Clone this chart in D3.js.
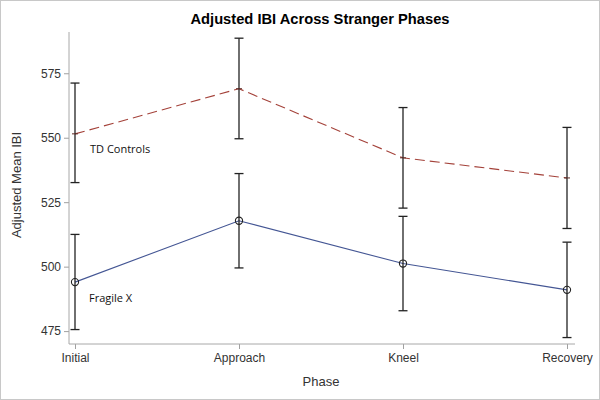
<!DOCTYPE html>
<html>
<head>
<meta charset="utf-8">
<script src="https://cdn.jsdelivr.net/npm/d3@7"></script>
<style>
  body { margin: 0; background: #fff; }
  svg { display: block; font-family: "Liberation Sans", Arial, sans-serif; }
</style>
</head>
<body>
<svg id="chart" width="600" height="400"></svg>
<script>
// data
var phases = ["Initial", "Approach", "Kneel", "Recovery"];
var tdMean = [551.5, 569, 542.2, 534.4];
var tdLow  = [532.6, 549.6, 522.7, 514.8];
var tdHigh = [571.2, 588.6, 561.7, 554.0];
var fxMean = [494.0, 517.8, 501.2, 491.0];
var fxLow  = [475.6, 499.5, 482.9, 472.5];
var fxHigh = [512.5, 536.1, 519.5, 509.5];
var yTicks = [475, 500, 525, 550, 575];

var width = 600, height = 400;
var svg = d3.select("#chart");

// outer frame
svg.append("rect")
  .attr("x", 0.5).attr("y", 0.5)
  .attr("width", width - 1).attr("height", height - 1)
  .attr("fill", "#fff").attr("stroke", "#c8c8c8");

// plot box (note: "top" is taken by window.top)
var pLeft = 69, pRight = 575, pTop = 32, pBottom = 344;

var x = d3.scalePoint()
  .domain(phases)
  .range([75, 567]);
var y = d3.scaleLinear()
  .domain([470, 591])
  .range([pBottom, pTop]);

// axes
var xAxis = svg.append("g")
  .attr("transform", "translate(0," + pBottom + ")")
  .call(d3.axisBottom(x).tickSize(5).tickPadding(4));
var yAxis = svg.append("g")
  .attr("transform", "translate(" + pLeft + ",0)")
  .call(d3.axisLeft(y).tickValues(yTicks).tickSize(5).tickPadding(3));

[xAxis, yAxis].forEach(function(g){
  g.select(".domain").remove();
  g.selectAll(".tick line").attr("stroke", "#a0a0a0");
  g.selectAll(".tick text")
    .attr("fill", "#333")
    .style("font-size", "12px")
    .style("font-family", "Liberation Sans, Arial, sans-serif");
});

svg.append("line")
  .attr("x1", pLeft).attr("x2", pLeft)
  .attr("y1", pTop).attr("y2", pBottom)
  .attr("stroke", "#a8a8a8");
svg.append("line")
  .attr("x1", pLeft).attr("x2", pRight)
  .attr("y1", pBottom).attr("y2", pBottom)
  .attr("stroke", "#a8a8a8");

// titles
svg.append("text")
  .attr("x", 320).attr("y", 24)
  .attr("text-anchor", "middle")
  .style("font-size", "14.7px").style("font-weight", "bold")
  .text("Adjusted IBI Across Stranger Phases");

svg.append("text")
  .attr("x", 321).attr("y", 386)
  .attr("text-anchor", "middle")
  .attr("fill", "#333")
  .style("font-size", "13px")
  .text("Phase");

svg.append("text")
  .attr("transform", "translate(21,185) rotate(-90)")
  .attr("text-anchor", "middle")
  .attr("fill", "#333")
  .style("font-size", "13px")
  .text("Adjusted Mean IBI");

function series(mean, color, dash){
  var line = d3.line()
    .x(function(d, i){ return x(phases[i]); })
    .y(function(d){ return y(d); });
  svg.append("path")
    .datum(mean)
    .attr("d", line)
    .attr("fill", "none")
    .attr("stroke", color)
    .attr("stroke-width", 1.1)
    .attr("stroke-dasharray", dash);
}

function errorBars(low, high){
  var g = svg.append("g").attr("stroke", "#222").attr("stroke-width", 1.3);
  phases.forEach(function(p, i){
    var cx = x(p);
    g.append("line").attr("x1", cx).attr("x2", cx)
      .attr("y1", y(low[i])).attr("y2", y(high[i]));
    g.append("line").attr("x1", cx - 4.5).attr("x2", cx + 4.5)
      .attr("y1", y(low[i])).attr("y2", y(low[i]));
    g.append("line").attr("x1", cx - 4.5).attr("x2", cx + 4.5)
      .attr("y1", y(high[i])).attr("y2", y(high[i]));
  });
}

series(tdMean, "#a4423a", "10,5");
series(fxMean, "#445694", null);
errorBars(tdLow, tdHigh);
errorBars(fxLow, fxHigh);

// markers
svg.append("g").selectAll("circle")
  .data(fxMean)
  .enter().append("circle")
  .attr("cx", function(d, i){ return x(phases[i]); })
  .attr("cy", function(d){ return y(d); })
  .attr("r", 3.6)
  .attr("fill", "none")
  .attr("stroke", "#222")
  .attr("stroke-width", 1.1);

svg.append("g").selectAll("line")
  .data(tdMean)
  .enter().append("line")
  .attr("x1", function(d, i){ return x(phases[i]) - 3; })
  .attr("x2", function(d, i){ return x(phases[i]) + 3; })
  .attr("y1", function(d){ return y(d); })
  .attr("y2", function(d){ return y(d); })
  .attr("stroke", "#5a2a24")
  .attr("stroke-width", 1);

// curve labels
svg.append("text")
  .attr("x", 90).attr("y", 153)
  .style("font-family", "Open Sans, sans-serif")
  .style("font-size", "11px")
  .attr("fill", "#111")
  .text("TD Controls");
svg.append("text")
  .attr("x", 89).attr("y", 302)
  .style("font-family", "Open Sans, sans-serif")
  .style("font-size", "11px")
  .attr("fill", "#111")
  .text("Fragile X");
</script>
</body>
</html>
